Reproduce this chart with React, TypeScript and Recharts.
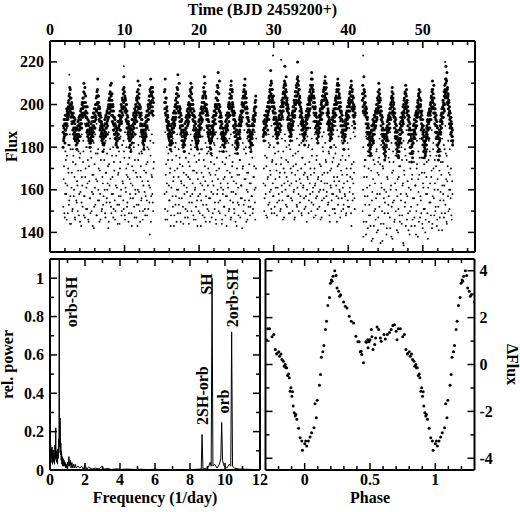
import React from "react"
import { ScatterChart, Scatter, LineChart, Line, XAxis, YAxis, ReferenceDot } from "recharts"

// ---- light curve (flux vs time), four sectors ----
const segStart = [1.75, 15.35, 28.6, 41.9]
const bandStep = 0.05
const lowStep = 0.1
const fringeStep = 0.2

const seg1Band = [
  180, 190, 184, 193, 186, 182, 195, 188, 191, 186, 198, 190, 196, 193, 201, 195, 204, 199,
  208, 197, 203, 194, 200,
  196, 191, 199, 188, 194, 186, 192, 184, 189, 193, 183, 188, 181, 186,
  179,
  189, 184, 192, 186, 183, 194, 188, 190, 185, 197, 191, 195, 189, 200, 194, 198, 203, 196,
  210, 199, 205, 195, 201,
  197, 190, 194, 187, 199, 185, 191, 188, 183, 192, 186, 180, 189,
  182,
  191, 185, 188, 194, 183, 190, 196, 187, 192, 198, 189, 195, 200, 193, 203, 197, 206,
  201, 212, 196, 204, 199,
  193, 198, 188, 195, 190, 185, 192, 187, 183, 190, 178, 186,
  184,
  190, 182, 193, 187, 185, 195, 189, 191, 197, 186, 193, 199, 194, 202, 196, 205, 198,
  209, 200, 204, 195, 202,
  197, 192, 199, 188, 194, 190, 186, 193, 184, 189, 181, 187, 183,
  188,
  180, 192, 186, 189, 195, 184, 191, 197, 188, 194, 200, 192, 198, 203, 195, 207, 199,
  213, 202, 206, 197, 203,
  198, 193, 200, 189, 195, 191, 186, 192, 184, 190, 180, 187, 183, 189,
  178,
  188, 185, 193, 182, 190, 187, 195, 189, 192, 198, 186, 194, 200, 196, 203, 192, 206, 199,
  211, 203, 196, 205, 200,
  194, 198, 190, 195, 187, 193, 185, 190, 182, 188, 184, 179,
  186,
  183, 191, 188, 194, 185, 192, 197, 189, 195, 200, 193, 198, 204, 196, 207, 201,
  212, 199, 205, 196, 202, 208, 197, 203,
]
const seg1BandB = [
  187, 183, 189, 185, 191, 188, 186, 193, 190, 195, 191, 197, 194, 199, 196, 202, 198, 205,
  200, 207, 198, 203, 196,
  201, 195, 198, 192, 196, 189, 194, 187, 191, 185, 189, 183, 188, 184,
  185,
  182, 190, 186, 188, 193, 185, 191, 195, 189, 193, 198, 191, 196, 201, 195, 203, 199, 206,
  201, 196, 208, 199, 204,
  194, 199, 191, 196, 188, 193, 186, 190, 184, 188, 182, 187, 184,
  187,
  183, 189, 186, 192, 188, 185, 194, 190, 196, 192, 189, 198, 194, 200, 197, 204, 200,
  207, 198, 204, 201, 195,
  199, 192, 196, 189, 194, 186, 191, 184, 189, 182, 188, 185,
  181,
  188, 185, 191, 187, 194, 189, 186, 196, 192, 190, 198, 194, 200, 196, 203, 199, 206,
  202, 197, 210, 199, 205,
  195, 200, 191, 197, 188, 194, 186, 191, 184, 190, 182, 187, 185,
  183,
  189, 186, 192, 184, 190, 195, 188, 193, 191, 197, 194, 199, 196, 202, 198, 205, 201,
  208, 199, 204, 197, 202,
  196, 200, 192, 197, 189, 194, 187, 191, 185, 189, 183, 188, 181, 186,
  184,
  190, 186, 188, 193, 185, 191, 196, 189, 194, 191, 197, 193, 199, 195, 202, 197, 204, 201,
  207, 198, 203, 196, 209,
  195, 199, 191, 196, 188, 193, 186, 190, 183, 187, 181, 185,
  188,
  184, 190, 186, 192, 189, 195, 190, 197, 193, 199, 195, 202, 198, 204, 200, 206,
  201, 208, 197, 204, 199, 206, 195, 201,
]
const seg2Band = [
  206, 198, 212, 201, 195, 203, 192, 197, 189, 194, 186, 191, 184, 188, 181, 186, 179,
  183,
  190, 185, 188, 193, 182, 191, 196, 187, 194, 190, 199, 193, 202, 196, 205, 198, 208,
  201, 214, 197, 204, 199,
  194, 199, 189, 196, 186, 192, 188, 183, 190, 185, 180, 187, 182,
  178,
  186, 191, 184, 189, 194, 187, 192, 197, 190, 195, 200, 192, 198, 204, 195, 207, 200,
  210, 198, 205, 196, 202,
  193, 198, 188, 195, 190, 185, 192, 184, 189, 182, 187, 180, 185,
  179,
  188, 183, 192, 186, 190, 195, 185, 193, 198, 189, 196, 201, 193, 204, 198, 208, 201,
  213, 199, 206, 197, 203,
  195, 200, 190, 196, 187, 193, 185, 190, 183, 188, 180, 186, 182,
  177,
  187, 183, 190, 185, 194, 188, 192, 197, 186, 195, 199, 191, 203, 196, 206, 200, 209,
  202, 215, 198, 205, 200,
  194, 199, 189, 195, 186, 192, 184, 189, 181, 187, 178, 185, 183,
  180,
  189, 184, 192, 187, 195, 183, 191, 196, 188, 194, 200, 192, 198, 203, 195, 207, 199,
  211, 203, 197, 206, 200,
  195, 190, 197, 187, 193, 185, 191, 182, 188, 179, 186, 183, 177,
  184,
  181, 190, 186, 193, 188, 184, 195, 190, 197, 192, 200, 194, 203, 197, 206, 199, 209,
  204, 212, 198, 206, 201,
  196, 191, 198, 187, 194, 185, 190, 183, 188, 180, 186, 182, 178,
  185,
  181, 190, 186, 193, 188, 195, 190, 198, 193, 201, 196, 204,
]
const seg2BandB = [
  201, 207, 196, 203, 198, 193, 199, 190, 195, 188, 192, 185, 190, 183, 187, 182, 185,
  181,
  186, 183, 189, 191, 187, 194, 189, 192, 197, 191, 196, 200, 194, 203, 199, 205, 201,
  207, 199, 204, 196, 210,
  197, 192, 198, 190, 195, 187, 193, 185, 190, 183, 188, 181, 185,
  183,
  181, 188, 186, 192, 189, 195, 186, 193, 198, 191, 196, 201, 194, 199, 204, 197, 206,
  203, 198, 208, 200, 195,
  200, 195, 192, 197, 188, 194, 186, 191, 183, 188, 181, 186, 183,
  182,
  185, 190, 187, 193, 189, 188, 196, 191, 194, 199, 192, 197, 203, 196, 201, 206, 199,
  205, 210, 200, 204, 198,
  198, 193, 197, 189, 195, 186, 192, 188, 184, 190, 182, 187, 179,
  183,
  184, 189, 186, 192, 190, 187, 195, 191, 197, 193, 200, 195, 198, 203, 199, 206, 202,
  208, 200, 205, 197, 211,
  197, 192, 196, 190, 194, 187, 191, 185, 189, 183, 186, 181, 184,
  184,
  186, 182, 190, 188, 193, 189, 196, 190, 194, 199, 196, 201, 195, 205, 200, 203, 209,
  204, 198, 207, 201, 196,
  199, 193, 195, 189, 196, 187, 192, 185, 190, 183, 188, 181, 180,
  182,
  187, 184, 191, 187, 194, 190, 192, 197, 193, 196, 201, 197, 199, 204, 200, 207, 203,
  209, 201, 205, 198, 203,
  199, 194, 196, 190, 193, 188, 192, 185, 190, 183, 187, 184, 181,
  182,
  187, 184, 191, 188, 194, 190, 197, 192, 199, 195, 202, 199,
]
const seg3Band = [
  185, 192, 183, 189, 195, 187, 191, 186, 197, 190, 194, 199, 188, 196, 201, 193, 204, 198, 207, 202,
  216, 205, 210, 199, 207,
  202, 197, 204, 193, 199, 191, 196, 188, 194, 186, 191, 184, 189, 187,
  182,
  191, 186, 194, 189, 197, 188, 193, 199, 190, 196, 202, 194, 200, 205, 197, 208, 203, 211,
  218, 204, 209, 200, 206,
  198, 203, 193, 199, 190, 196, 188, 193, 185, 191, 183, 188,
  186,
  193, 188, 196, 190, 199, 192, 197, 202, 194, 200, 206, 198, 204, 209, 201, 212,
  220, 206, 211, 201, 207,
  200, 204, 194, 199, 191, 197, 188, 194, 186, 191, 183, 189, 185, 190,
  181,
  190, 186, 194, 188, 197, 191, 195, 200, 189, 198, 203, 195, 201, 206, 198, 209, 203, 212,
  215, 204, 209, 199, 206,
  201, 196, 203, 192, 198, 189, 195, 187, 192, 184, 190, 182, 188,
  185,
  192, 187, 195, 189, 198, 191, 196, 201, 193, 199, 204, 196, 202, 207, 199, 210, 203,
  213, 205, 200, 208, 202,
  196, 201, 191, 197, 188, 194, 186, 192, 183, 189, 180, 187,
  184,
  191, 186, 194, 188, 197, 190, 195, 200, 192, 198, 203, 195, 201, 206, 198, 209,
  212, 203, 207, 198, 205,
  199, 194, 201, 190, 196, 187, 193, 185, 190, 182, 188, 179, 186,
  183,
  190, 185, 193, 188, 196, 189, 194, 199, 191, 197, 202, 194, 200, 205, 197, 208, 202,
  211, 204, 198, 207, 201, 195, 203, 192, 198, 189, 195,
]
const seg3BandB = [
  188, 186, 191, 187, 193, 189, 195, 190, 192, 197, 193, 199, 195, 201, 197, 203, 199, 206, 202, 209,
  204, 211, 201, 207, 203,
  199, 204, 196, 201, 194, 198, 191, 196, 189, 193, 187, 192, 185, 190,
  187,
  186, 193, 189, 195, 191, 188, 197, 193, 199, 195, 201, 197, 203, 199, 206, 201, 209, 205,
  210, 203, 207, 213, 201,
  202, 197, 200, 194, 198, 191, 195, 189, 193, 187, 190, 185,
  189,
  190, 195, 191, 197, 194, 199, 195, 201, 197, 204, 200, 206, 202, 208, 204, 210,
  213, 205, 209, 202, 207,
  203, 197, 201, 195, 198, 192, 196, 190, 193, 188, 192, 186, 189, 184,
  186,
  187, 192, 189, 195, 191, 193, 198, 194, 200, 196, 202, 197, 204, 200, 207, 202, 209, 205,
  208, 212, 203, 207, 201,
  204, 198, 201, 195, 199, 192, 196, 190, 194, 188, 191, 186, 190,
  187,
  189, 194, 191, 197, 193, 195, 200, 196, 202, 198, 204, 199, 206, 202, 208, 204, 211,
  207, 203, 210, 201, 205,
  200, 195, 198, 192, 196, 190, 193, 188, 191, 185, 189, 184,
  188,
  189, 193, 190, 196, 192, 198, 194, 200, 196, 202, 198, 204, 200, 207, 203, 210,
  206, 201, 209, 204, 199,
  203, 197, 199, 193, 197, 190, 195, 188, 192, 186, 190, 184, 188,
  186,
  188, 192, 190, 195, 191, 197, 193, 199, 195, 201, 197, 203, 199, 206, 201, 208, 204,
  209, 202, 206, 199, 204, 197, 200, 194, 199, 191, 196,
]
const seg4Band = [
  202, 209, 197, 205, 213, 200, 206, 195, 201,
  196, 191, 198, 187, 193, 184, 190, 181, 187, 178, 185, 182, 176,
  180,
  187, 183, 190, 185, 188, 193, 182, 191, 186, 195, 189, 192, 197, 190, 196, 200, 193, 203, 197, 206, 199,
  210, 201, 205, 196, 202,
  195, 190, 197, 186, 192, 183, 189, 180, 186, 177, 184, 174, 181,
  178,
  186, 181, 189, 184, 192, 187, 183, 194, 188, 191, 196, 189, 198, 193, 201, 196, 204,
  208, 199, 203, 195, 201,
  194, 189, 196, 185, 191, 182, 188, 179, 185, 176, 183, 180, 175,
  181,
  188, 183, 191, 186, 194, 182, 190, 196, 187, 193, 199, 191, 197, 202, 194, 205, 199,
  209, 200, 204, 196, 202,
  195, 190, 197, 186, 192, 183, 189, 180, 186, 177, 184, 173, 181,
  178,
  186, 182, 190, 185, 193, 188, 184, 195, 189, 192, 197, 190, 199, 194, 202, 196, 205,
  207, 199, 203, 194, 200,
  193, 188, 195, 184, 190, 181, 187, 178, 185, 175, 182, 179, 176,
  183,
  187, 181, 190, 185, 193, 188, 196, 184, 192, 198, 189, 195, 201, 193, 204, 198, 207,
  211, 201, 205, 196, 203,
  196, 191, 198, 187, 193, 184, 190, 181, 187, 178, 185, 174, 182,
  179,
  188, 184, 192, 187, 195, 189, 198, 191, 196, 202, 194, 200, 206, 197, 209, 203, 212,
  218, 206, 211, 201, 208,
  200, 205, 195, 201, 191, 197, 189, 194, 186, 192, 183, 189, 185, 181,
]
const seg4BandB = [
  205, 199, 203, 196, 207, 201, 198, 204, 197,
  199, 194, 196, 189, 194, 186, 191, 184, 189, 181, 186, 179, 183,
  177,
  184, 181, 188, 184, 190, 186, 183, 192, 188, 190, 194, 189, 196, 192, 198, 194, 200, 196, 202, 198, 204,
  201, 207, 199, 203, 197,
  199, 193, 195, 188, 194, 185, 191, 182, 188, 179, 185, 181, 176,
  180,
  183, 188, 185, 190, 187, 193, 189, 195, 191, 193, 198, 194, 200, 196, 203, 199, 206,
  202, 197, 205, 200, 196,
  198, 192, 194, 187, 193, 184, 190, 181, 187, 178, 184, 176, 182,
  178,
  184, 186, 189, 184, 192, 188, 194, 190, 196, 192, 195, 200, 196, 203, 198, 206, 201,
  205, 198, 207, 201, 197,
  199, 193, 195, 188, 194, 186, 191, 183, 188, 180, 186, 177, 183,
  175,
  182, 188, 184, 191, 187, 193, 190, 186, 196, 192, 194, 199, 195, 201, 198, 204, 200,
  203, 197, 206, 199, 202,
  196, 191, 197, 189, 193, 186, 190, 183, 188, 180, 185, 177, 181,
  178,
  184, 189, 186, 192, 188, 195, 191, 189, 197, 193, 196, 200, 197, 203, 199, 206, 202,
  207, 199, 203, 209, 198,
  200, 194, 196, 190, 195, 187, 192, 184, 189, 181, 186, 178, 184,
  176,
  183, 190, 186, 193, 189, 196, 192, 194, 199, 196, 201, 198, 204, 200, 207, 205, 210,
  212, 204, 215, 207, 203,
  204, 198, 202, 196, 199, 193, 196, 190, 194, 187, 191, 185, 188, 183,
]

const seg1Low = [
  152, 171, 147, 163, 158, 176, 149, 168, 155, 144, 179, 161, 150, 173, 157, 166, 146, 181, 154, 162,
  169, 148, 175, 159, 143, 166, 152, 178, 157, 147, 170, 161, 151, 174, 145, 164, 156, 180, 150, 167,
  158, 142, 172, 153, 165, 148, 177, 160, 155, 169, 146, 183, 151, 163, 157, 174, 149, 168, 154, 160,
  171, 145, 162, 179, 152, 158, 166, 147, 173, 155, 150, 176, 161, 144, 168, 153, 170, 157, 148, 181,
  163, 151, 175, 146, 159, 167, 154, 172, 149, 165, 156, 178, 143, 162, 169, 152, 174, 158, 147, 166,
  160, 153, 177, 145, 171, 156, 164, 150, 180, 159, 148, 168, 155, 173, 151, 162, 139, 176, 157, 166,
  154, 170,
]
const seg1LowB = [
  165, 149, 158, 174, 146, 162, 170, 153, 181, 157, 144, 168, 151, 176, 160, 147, 172, 155, 164, 150,
  178, 158, 145, 169, 154, 162, 173, 148, 157, 166, 151, 180, 163, 146, 171, 156, 149, 175, 159, 143,
  167, 152, 161, 177, 148, 164, 155, 170, 145, 158, 174, 150, 166, 153, 179, 160, 147, 168, 156, 163,
  142, 172, 154, 165, 149, 176, 158, 151, 169, 146, 162, 181, 153, 167, 157, 144, 173, 160, 150, 164,
  155, 178, 148, 161, 170, 152, 166, 145, 175, 158, 163, 149, 171, 156, 180, 147, 160, 168, 153, 143,
  174, 159, 150, 166, 155, 177, 146, 162, 169, 151, 157, 172, 148, 164, 179, 154, 161, 145, 167, 158,
  150, 173,
]
const seg2Low = [
  158, 146, 172, 163, 150, 177, 155, 168, 143, 161, 174, 152, 166, 148, 180, 157, 145, 170, 160, 153,
  175, 149, 164, 156, 171, 144, 162, 178, 151, 167, 159, 147, 173, 154, 165, 181, 150, 158, 169, 146,
  176, 161, 152, 168, 143, 157, 174, 149, 163, 155, 179, 148, 166, 160, 171, 145, 153, 177, 162, 150,
  168, 156, 173, 147, 164, 158, 182, 151, 167, 144, 175, 160, 154, 170, 149, 163, 178, 146, 158, 165,
  152, 172, 157, 143, 169, 161, 150, 176, 155, 147, 166, 173, 159, 151, 180, 145, 163, 170, 154, 148,
  167, 174, 156, 162, 142, 171, 153, 165, 149, 177, 160, 146, 168, 155, 163, 152, 179, 157, 149, 166,
  171, 154, 161,
]
const seg2LowB = [
  151, 167, 159, 146, 174, 162, 155, 170, 148, 178, 157, 164, 143, 169, 153, 176, 160, 149, 166, 156,
  172, 145, 163, 181, 152, 168, 158, 147, 175, 161, 150, 166, 144, 171, 157, 179, 154, 163, 148, 169,
  160, 146, 173, 155, 165, 150, 177, 158, 143, 168, 162, 153, 174, 147, 164, 157, 180, 151, 170, 156,
  145, 167, 159, 176, 149, 162, 172, 154, 146, 169, 158, 165, 150, 178, 155, 161, 144, 173, 160, 152,
  166, 148, 175, 157, 163, 182, 151, 168, 146, 159, 171, 154, 164, 149, 177, 158, 143, 167, 161, 153,
  174, 147, 162, 156, 170, 150, 179, 155, 165, 145, 168, 159, 152, 172, 148, 163, 157, 175, 151, 166,
  160, 146, 170,
]
const seg3Low = [
  163, 150, 176, 158, 171, 147, 166, 182, 154, 169, 160, 149, 174, 157, 180, 152, 165, 172, 148, 161,
  178, 155, 168, 151, 175, 159, 146, 170, 163, 183, 153, 166, 157, 173, 149, 162, 179, 156, 168, 150,
  171, 160, 147, 177, 164, 152, 169, 158, 181, 154, 163, 149, 175, 161, 167, 151, 172, 157, 145, 166,
  180, 155, 163, 170, 150, 176, 159, 153, 168, 162, 148, 174, 157, 165, 182, 152, 160, 171, 147, 167,
  178, 156, 163, 150, 173, 159, 168, 154, 177, 145, 162, 170, 158, 151, 175, 164, 149, 180, 157, 166,
  153, 172, 160, 147, 169, 156, 176, 151, 163, 158, 174, 149, 167, 155, 179, 152, 161, 170, 143, 165,
  158, 173, 156,
]
const seg3LowB = [
  170, 156, 162, 148, 175, 165, 153, 180, 159, 167, 151, 173, 163, 157, 149, 177, 161, 169, 154, 184,
  158, 166, 150, 172, 162, 155, 178, 147, 168, 160, 174, 152, 164, 157, 181, 149, 170, 163, 155, 176,
  159, 146, 167, 172, 153, 161, 178, 150, 165, 157, 170, 148, 175, 162, 156, 168, 152, 183, 160, 165,
  149, 173, 158, 167, 154, 179, 161, 147, 170, 163, 156, 176, 151, 166, 159, 172, 146, 164, 155, 180,
  160, 168, 150, 174, 157, 163, 153, 178, 148, 169, 161, 155, 173, 158, 166, 151, 177, 162, 145, 171,
  156, 164, 159, 174, 150, 167, 161, 153, 179, 157, 148, 170, 164, 152, 176, 159, 166, 149, 172, 155,
  163, 168, 151,
]
const seg4Low = [
  150, 138, 166, 157, 174, 145, 161, 142, 170, 153, 148, 177, 136, 159, 165, 143, 172, 151, 156, 140,
  168, 147, 175, 158, 135, 163, 150, 171, 144, 160, 154, 178, 139, 166, 149, 157, 173, 142, 162, 152,
  137, 169, 155, 146, 176, 160, 141, 165, 151, 171, 145, 158, 180, 148, 163, 134, 167, 154, 143, 174,
  157, 149, 161, 139, 170, 152, 165, 146, 177, 156, 143, 162, 150, 172, 138, 159, 167, 147, 155, 175,
  144, 163, 151, 168, 140, 158, 173, 149, 161, 145, 178, 154, 166, 142, 157, 170, 148, 163, 152, 176,
  146, 160, 141, 169, 155, 173, 149, 162, 158, 147, 179, 153, 165, 144, 171, 150, 160, 167, 156, 148,
  164,
]
const seg4LowB = [
  160, 145, 171, 153, 139, 166, 157, 176, 148, 162, 143, 169, 155, 137, 174, 150, 163, 146, 178, 158,
  141, 167, 152, 172, 144, 161, 136, 170, 156, 149, 175, 159, 142, 165, 153, 179, 147, 160, 138, 168,
  154, 173, 145, 163, 150, 177, 157, 140, 166, 148, 171, 155, 144, 162, 135, 169, 152, 176, 158, 146,
  164, 141, 173, 150, 160, 143, 167, 156, 178, 147, 162, 139, 170, 153, 165, 145, 175, 157, 149, 168,
  142, 161, 172, 151, 146, 166, 158, 137, 174, 154, 163, 148, 169, 144, 179, 156, 160, 150, 171, 143,
  165, 152, 176, 147, 159, 167, 141, 173, 155, 162, 149, 177, 145, 164, 157, 168, 151, 160, 170, 146,
  158,
]
// sparse points between the ridge and the faint scatter
const seg1Fringe = [
  184, 178, 189, 181, 186, 192, 179, 185, 188, 182, 190, 177, 186, 183, 191, 180, 187, 184, 178, 189,
  182, 186, 191, 179, 185, 188, 181, 190, 183, 177, 187, 184, 192, 180, 186, 182, 189, 178, 185, 191,
  183, 187, 180, 188, 184, 179, 190, 182, 186, 189, 181, 185, 178, 191, 184, 187, 180, 188, 183, 186,
  182,
]
const seg2Fringe = [
  187, 180, 185, 191, 178, 184, 189, 182, 186, 179, 190, 183, 188, 181, 185, 192, 177, 186, 183, 189,
  180, 187, 184, 191, 179, 185, 188, 182, 190, 178, 186, 183, 189, 181, 187, 184, 192, 180, 185, 188,
  182, 178, 190, 184, 186, 181, 189, 183, 179, 187, 185, 191, 182, 188, 180, 184, 190, 183, 186, 181,
  187, 184,
]
const seg3Fringe = [
  189, 183, 192, 186, 181, 190, 185, 194, 188, 182, 191, 187, 184, 193, 186, 180, 189, 185, 192, 183,
  188, 195, 184, 190, 186, 182, 191, 187, 193, 185, 181, 189, 184, 192, 186, 190, 183, 188, 194, 185,
  187, 182, 191, 189, 184, 193, 186, 181, 190, 188, 185, 192, 183, 187, 191, 186, 182, 189, 184, 190,
  187, 185,
]
const seg4Fringe = [
  180, 174, 185, 178, 183, 188, 176, 182, 186, 179, 173, 184, 181, 189, 177, 185, 180, 175, 187, 182,
  178, 184, 190, 176, 181, 186, 174, 183, 179, 188, 182, 177, 185, 180, 173, 187, 183, 178, 184, 189,
  175, 181, 186, 179, 183, 176, 188, 182, 174, 185, 180, 187, 178, 184, 181, 190, 176, 183, 179, 186,
  182,
]
const strayTime = [2.6, 9.9, 29.9, 31.0, 42.0, 53.0]
const strayFlux = [214, 218, 223, 221, 223, 220]

// ---- periodogram ----
const freq = [
  0, 0.02, 0.04, 0.06, 0.08, 0.1, 0.12, 0.14, 0.16, 0.18, 0.2, 0.22, 0.24, 0.26, 0.28, 0.3, 0.33, 0.35,
  0.37, 0.39, 0.41, 0.43, 0.45, 0.47, 0.49, 0.51, 0.53, 0.54, 0.56, 0.58, 0.6, 0.62, 0.64, 0.66, 0.68,
  0.7, 0.72, 0.75, 0.78, 0.81, 0.84, 0.87, 0.9, 0.93, 0.96, 1.0, 1.04, 1.08, 1.12, 1.16, 1.2, 1.25,
  1.3, 1.35, 1.4, 1.45, 1.5, 1.6, 1.7, 1.8, 1.9, 2.0, 2.1, 2.2, 2.4, 2.6, 2.8, 2.95, 3.1, 3.3, 3.5,
  3.8, 4.1, 4.4, 4.8, 5.2, 5.6, 6.0, 6.4, 6.8, 7.2, 7.6, 8.0, 8.4, 8.64, 8.69, 8.74, 8.9, 9.05, 9.15,
  9.21, 9.26, 9.31, 9.4, 9.55, 9.68, 9.76, 9.81, 9.86, 9.95, 10.1, 10.25, 10.33, 10.38, 10.43, 10.55,
  10.8, 11.1, 11.5, 12.0,
]
const power = [
  0.1, 0.06, 0.13, 0.04, 0.11, 0.07, 0.12, 0.03, 0.09, 0.05, 0.1, 0.04, 0.08, 0.03, 0.13, 0.06, 0.22, 0.05,
  0.1, 0.04, 0.08, 0.03, 0.11, 0.06, 0.16, 0.09, 1.25, 0.3, 0.12, 0.27, 0.08, 0.14, 0.05, 0.1, 0.03,
  0.07, 0.02, 0.06, 0.02, 0.05, 0.02, 0.04, 0.01, 0.03, 0.01, 0.04, 0.02, 0.07, 0.02, 0.05, 0.01, 0.04,
  0.01, 0.03, 0.01, 0.03, 0.01, 0.02, 0.01, 0.02, 0.005, 0.025, 0.005, 0.015, 0.005, 0.01, 0.005, 0.018, 0.005, 0.008, 0.003,
  0.006, 0.003, 0.005, 0.003, 0.004, 0.002, 0.004, 0.002, 0.003, 0.002, 0.003, 0.002, 0.004, 0.005, 0.185, 0.006, 0.008, 0.015, 0.04,
  0.02, 1.0, 0.02, 0.03, 0.01, 0.03, 0.06, 0.248, 0.05, 0.02, 0.01, 0.03, 0.02, 0.72, 0.02, 0.01,
  0.005, 0.004, 0.003, 0.002,
]
const peakNames = ["orb-SH", "SH", "2SH-orb", "orb", "2orb-SH"]
const peakLabelFreq = [1.26, 8.95, 8.74, 9.94, 10.46]
const peakLabelPower = [0.876, 0.97, 0.388, 0.357, 0.897]

// ---- phase-folded flux ----
const phase = [
  0.0, 0.008, 0.016, 0.028, 0.041, 0.053, 0.071, 0.079, 0.089, 0.096, 0.113, 0.121, 0.128, 0.139, 0.147,
  0.159, 0.167, 0.177, 0.19, 0.197, 0.205, 0.21, 0.217, 0.23, 0.24, 0.248, 0.26, 0.268, 0.275, 0.298,
  0.311, 0.324, 0.341, 0.356, 0.374, 0.392, 0.407, 0.417, 0.425, 0.432, 0.437, 0.45, 0.468, 0.473, 0.483,
  0.485, 0.493, 0.5, 0.51, 0.515, 0.523, 0.536, 0.543, 0.554, 0.566, 0.579, 0.586, 0.607, 0.617, 0.632,
  0.649, 0.662, 0.675, 0.687, 0.7, 0.707, 0.717, 0.732, 0.75, 0.763, 0.775, 0.786, 0.788, 0.801, 0.808,
  0.818, 0.826, 0.837, 0.843, 0.851, 0.856, 0.862, 0.869, 0.877, 0.882, 0.889, 0.895, 0.902, 0.907, 0.912,
  0.92, 0.927, 0.932, 0.94, 0.953, 0.965, 0.978, 0.983,
]
const dFlux = [
  -3.38, -3.26, -3.48, -3.26, -3.09, -2.91, -2.7, -1.67, -2.27, -1.52, -0.89, -0.43, 0.31, 0.54, 0.81,
  1.49, 1.84, 2.52, 2.86, 3.47, 3.6, 3.55, 3.76, 4.0, 3.8, 3.26, 3.12, 2.91, 2.98, 2.67,
  2.48, 2.41, 2.06, 1.84, 1.77, 1.21, 0.97, 0.97, 0.54, 0.57, 0.43, 0.07, 0.97, 0.95, 1.06,
  0.71, 0.97, 1.06, 1.49, 1.18, 0.64, 0.85, 1.13, 1.6, 1.49, 1.13, 0.99, 1.28, 1.09, 1.28,
  1.37, 1.49, 1.66, 1.7, 1.42, 1.06, 1.52, 1.52, 1.18, 1.28, 0.64, 0.45, 0.47, 0.54, 0.35,
  0.45, 0.21, 0.14, -0.07, 0, -0.14, -0.14, -0.47, -0.4, -0.57, -1.14, -0.99, -1.35, -1.16, -1.77,
  -2.06, -2.2, -2.13, -2.34, -2.72, -3.12, -3.26, -3.66,
]

// ---- ticks ----
const timeTicks = [0, 2, 4, 6, 8, 10, 12, 14, 16, 18, 20, 22, 24, 26, 28, 30, 32, 34, 36, 38, 40, 42, 44, 46, 48, 50, 52, 54, 56]
const timeMajor = [0, 10, 20, 30, 40, 50]
const fluxTicks = [140, 150, 160, 170, 180, 190, 200, 210, 220]
const fluxMajor = [140, 160, 180, 200, 220]
const freqTicks = [0, 1, 2, 3, 4, 5, 6, 7, 8, 9, 10, 11, 12]
const freqMajor = [0, 2, 4, 6, 8, 10, 12]
const powerTicks = [0, 0.1, 0.2, 0.3, 0.4, 0.5, 0.6, 0.7, 0.8, 0.9, 1.0]
const powerMajor = [0, 0.2, 0.4, 0.6, 0.8, 1.0]
const phaseTicks = [-0.2, -0.1, 0, 0.1, 0.2, 0.3, 0.4, 0.5, 0.6, 0.7, 0.8, 0.9, 1.0, 1.1, 1.2]
const phaseMajor = [0, 0.5, 1]
const dFluxTicks = [-4, -3, -2, -1, 0, 1, 2, 3, 4]
const dFluxMajor = [-4, -2, 0, 2, 4]

const FONT = "'Liberation Serif', 'Times New Roman', serif"
const textStyle = { fontFamily: FONT, fontWeight: 700, fontSize: 16, fill: "#000" }
const frame = { stroke: "#000", strokeWidth: 2 }

// build point lists (band = dense pulsating ridge, low = faint scatter below it)
const bandPoints: { t: number; f: number }[] = []
;[seg1Band, seg2Band, seg3Band, seg4Band].forEach((arr, s) =>
  arr.forEach((f, i) => bandPoints.push({ t: segStart[s] + i * bandStep, f }))
)
;[seg1BandB, seg2BandB, seg3BandB, seg4BandB].forEach((arr, s) =>
  arr.forEach((f, i) => bandPoints.push({ t: segStart[s] + 0.025 + i * bandStep, f }))
)
const lowPoints: { t: number; f: number }[] = []
;[seg1Low, seg2Low, seg3Low, seg4Low].forEach((arr, s) =>
  arr.forEach((f, i) => lowPoints.push({ t: segStart[s] + 0.03 + i * lowStep, f }))
)
;[seg1LowB, seg2LowB, seg3LowB, seg4LowB].forEach((arr, s) =>
  arr.forEach((f, i) => lowPoints.push({ t: segStart[s] + 0.08 + i * lowStep, f }))
)
;[seg1Fringe, seg2Fringe, seg3Fringe, seg4Fringe].forEach((arr, s) =>
  arr.forEach((f, i) => lowPoints.push({ t: segStart[s] + 0.11 + i * fringeStep, f }))
)
strayTime.forEach((t, i) => lowPoints.push({ t, f: strayFlux[i] }))

const spectrum = freq.map((f, i) => ({ f, p: power[i] }))

// folded curve is drawn from -0.3 to 1.3, so the edges repeat
const foldPoints: { ph: number; d: number }[] = []
phase.forEach((ph, i) => {
  foldPoints.push({ ph, d: dFlux[i] })
  if (ph < 0.3) foldPoints.push({ ph: ph + 1, d: dFlux[i] })
  if (ph > 0.7) foldPoints.push({ ph: ph - 1, d: dFlux[i] })
})

type Side = "top" | "bottom" | "left" | "right"

// inward tick marks, labels outside the frame
function tickFor(side: Side, majors: number[], showLabels: boolean) {
  return function Tick(props: any) {
    const { x, y, payload } = props
    const v = payload.value as number
    const major = majors.some((m) => Math.abs(m - v) < 1e-6)
    const len = major ? 7 : 4
    let line = null
    let label = null
    if (side === "bottom") {
      line = <line x1={x} y1={y} x2={x} y2={y - len} stroke="#000" strokeWidth={1.5} />
      if (major && showLabels) label = <text x={x} y={y + 15} textAnchor="middle" style={textStyle}>{String(v)}</text>
    } else if (side === "top") {
      line = <line x1={x} y1={y} x2={x} y2={y + len} stroke="#000" strokeWidth={1.5} />
      if (major && showLabels) label = <text x={x} y={y - 6} textAnchor="middle" style={textStyle}>{String(v)}</text>
    } else if (side === "left") {
      line = <line x1={x} y1={y} x2={x + len} y2={y} stroke="#000" strokeWidth={1.5} />
      if (major && showLabels) label = <text x={x - 6} y={y + 5.5} textAnchor="end" style={textStyle}>{String(v)}</text>
    } else {
      line = <line x1={x} y1={y} x2={x - len} y2={y} stroke="#000" strokeWidth={1.5} />
      if (major && showLabels) label = <text x={x + 5} y={y + 5.5} textAnchor="start" style={textStyle}>{String(v)}</text>
    }
    return (
      <g>
        {line}
        {label}
      </g>
    )
  }
}

function AxisTitle(props: any) {
  const { viewBox, text, kind, off } = props
  const vb = viewBox || { x: 0, y: 0, width: 0, height: 0 }
  if (kind === "top" || kind === "bottom") {
    return <text x={vb.x + vb.width / 2} y={vb.y + off} textAnchor="middle" style={textStyle}>{text}</text>
  }
  const cx = vb.x + off
  const cy = vb.y + vb.height / 2
  const rot = kind === "left" ? -90 : 90
  return <text x={cx} y={cy} transform={`rotate(${rot} ${cx} ${cy})`} textAnchor="middle" style={textStyle}>{text}</text>
}

function PeakLabel(props: any) {
  const { viewBox, text } = props
  const cx = viewBox.x + viewBox.width / 2
  const cy = viewBox.y + viewBox.height / 2
  return (
    <text x={cx} y={cy} dy={5} transform={`rotate(-90 ${cx} ${cy})`} textAnchor="middle" style={textStyle}>
      {text}
    </text>
  )
}

const bandDot = (p: any) => <circle cx={p.cx} cy={p.cy} r={1.5} fill="#000" />
const lowDot = (p: any) => <circle cx={p.cx} cy={p.cy} r={0.95} fill="#000" />
const foldDot = (p: any) => <circle cx={p.cx} cy={p.cy} r={1.5} fill="#000" />

export default function App() {
  return (
    <div style={{ position: "absolute", left: 0, top: 0, width: 520, height: 512, background: "#fff" }}>
      {/* light curve */}
      <div style={{ position: "absolute", left: 0, top: 0 }}>
        <ScatterChart width={520} height={256} margin={{ top: 0, right: 0, bottom: 0, left: 0 }}>
          <XAxis xAxisId="b" dataKey="t" type="number" orientation="bottom" domain={[0, 57]} allowDataOverflow
            ticks={timeTicks} interval={0} tickSize={0} tickMargin={0} height={4} axisLine={frame}
            tick={tickFor("bottom", timeMajor, false)} />
          <XAxis xAxisId="t" dataKey="t" type="number" orientation="top" domain={[0, 57]} allowDataOverflow
            ticks={timeTicks} interval={0} tickSize={0} tickMargin={0} height={41} axisLine={frame}
            tick={tickFor("top", timeMajor, true)}
            label={<AxisTitle text="Time (BJD 2459200+)" kind="top" off={15} />} />
          <YAxis yAxisId="l" dataKey="f" type="number" orientation="left" domain={[130.8, 229.8]} allowDataOverflow
            ticks={fluxTicks} interval={0} tickSize={0} tickMargin={0} width={50} axisLine={frame}
            tick={tickFor("left", fluxMajor, true)}
            label={<AxisTitle text="Flux" kind="left" off={17} />} />
          <YAxis yAxisId="r" dataKey="f" type="number" orientation="right" domain={[130.8, 229.8]} allowDataOverflow
            ticks={fluxTicks} interval={0} tickSize={0} tickMargin={0} width={45} axisLine={frame}
            tick={tickFor("right", fluxMajor, false)} />
          <Scatter data={lowPoints} xAxisId="b" yAxisId="l" shape={lowDot} isAnimationActive={false} />
          <Scatter data={bandPoints} xAxisId="b" yAxisId="l" shape={bandDot} isAnimationActive={false} />
        </ScatterChart>
      </div>

      {/* periodogram */}
      <div style={{ position: "absolute", left: 0, top: 256 }}>
        <LineChart width={275} height={256} data={spectrum} margin={{ top: 0, right: 0, bottom: 0, left: 0 }}>
          <XAxis xAxisId="b" dataKey="f" type="number" orientation="bottom" domain={[0, 12]} allowDataOverflow
            ticks={freqTicks} interval={0} tickSize={0} tickMargin={0} height={42} axisLine={frame}
            tick={tickFor("bottom", freqMajor, true)}
            label={<AxisTitle text="Frequency (1/day)" kind="bottom" off={33} />} />
          <XAxis xAxisId="t" dataKey="f" type="number" orientation="top" domain={[0, 12]} allowDataOverflow
            ticks={freqTicks} interval={0} tickSize={0} tickMargin={0} height={3} axisLine={frame}
            tick={tickFor("top", freqMajor, false)} />
          <YAxis yAxisId="l" type="number" orientation="left" domain={[0, 1.1]} allowDataOverflow
            ticks={powerTicks} interval={0} tickSize={0} tickMargin={0} width={50} axisLine={frame}
            tick={tickFor("left", powerMajor, true)}
            label={<AxisTitle text="rel. power" kind="left" off={13} />} />
          <YAxis yAxisId="r" type="number" orientation="right" domain={[0, 1.1]} allowDataOverflow
            ticks={powerTicks} interval={0} tickSize={0} tickMargin={0} width={15} axisLine={frame}
            tick={tickFor("right", powerMajor, false)} />
          <Line xAxisId="b" yAxisId="l" dataKey="p" type="linear" stroke="#000" strokeWidth={1}
            dot={false} isAnimationActive={false} />
          {peakNames.map((name, i) => (
            <ReferenceDot key={name} xAxisId="b" yAxisId="l" x={peakLabelFreq[i]} y={peakLabelPower[i]} r={1}
              fill="none" stroke="none" label={<PeakLabel text={name} />} />
          ))}
        </LineChart>
      </div>

      {/* phase-folded */}
      <div style={{ position: "absolute", left: 262, top: 256 }}>
        <ScatterChart width={258} height={256} margin={{ top: 0, right: 0, bottom: 0, left: 0 }}>
          <XAxis xAxisId="b" dataKey="ph" type="number" orientation="bottom" domain={[-0.3, 1.3]} allowDataOverflow
            ticks={phaseTicks} interval={0} tickSize={0} tickMargin={0} height={42} axisLine={frame}
            tick={tickFor("bottom", phaseMajor, true)}
            label={<AxisTitle text="Phase" kind="bottom" off={33} />} />
          <XAxis xAxisId="t" dataKey="ph" type="number" orientation="top" domain={[-0.3, 1.3]} allowDataOverflow
            ticks={phaseTicks} interval={0} tickSize={0} tickMargin={0} height={3} axisLine={frame}
            tick={tickFor("top", phaseMajor, false)} />
          <YAxis yAxisId="l" dataKey="d" type="number" orientation="left" domain={[-4.5, 4.5]} allowDataOverflow
            ticks={dFluxTicks} interval={0} tickSize={0} tickMargin={0} width={3.5} axisLine={frame}
            tick={tickFor("left", dFluxMajor, false)} />
          <YAxis yAxisId="r" dataKey="d" type="number" orientation="right" domain={[-4.5, 4.5]} allowDataOverflow
            ticks={dFluxTicks} interval={0} tickSize={0} tickMargin={0} width={45.5} axisLine={frame}
            tick={tickFor("right", dFluxMajor, true)}
            label={<AxisTitle text="ΔFlux" kind="right" off={32.5} />} />
          <Scatter data={foldPoints} xAxisId="b" yAxisId="l" shape={foldDot} isAnimationActive={false} />
        </ScatterChart>
      </div>
    </div>
  )
}
